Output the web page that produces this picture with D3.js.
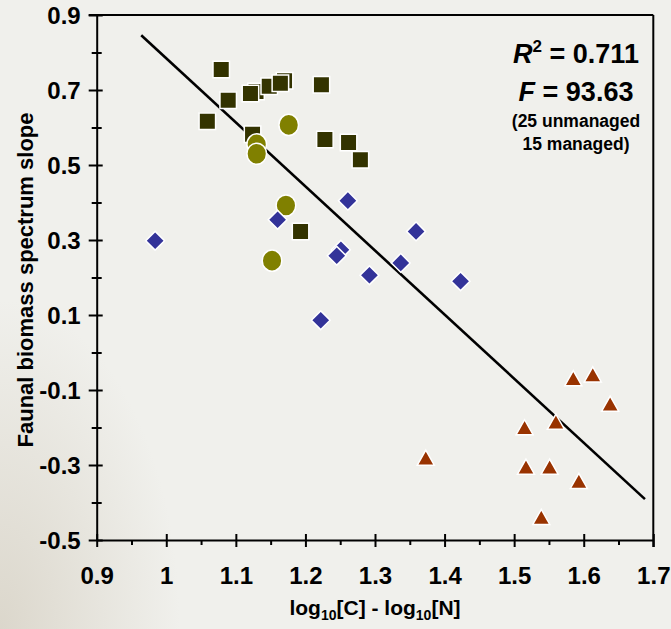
<!DOCTYPE html>
<html><head><meta charset="utf-8">
<script src="https://cdn.jsdelivr.net/npm/d3@7"></script>
<style>
html,body{margin:0;padding:0;background:#f0f0ec;}
svg{display:block;font-family:"Liberation Sans",Arial,sans-serif;font-weight:bold;}
</style>
</head><body>
<svg id="c" width="671" height="629"></svg>
<script>
// ---- data ----
const squaresX = [1.079, 1.089, 1.059, 1.129, 1.121, 1.148, 1.170, 1.164, 1.223, 1.124, 1.228, 1.262, 1.279, 1.193];
const squaresY = [0.755, 0.673, 0.617, 0.696, 0.691, 0.710, 0.725, 0.718, 0.714, 0.582, 0.568, 0.560, 0.514, 0.323];
const circlesX = [1.176, 1.130, 1.130, 1.172, 1.152];
const circlesY = [0.607, 0.555, 0.530, 0.392, 0.245];
const diamondsX = [0.984, 1.160, 1.261, 1.359, 1.251, 1.245, 1.337, 1.292, 1.423, 1.222];
const diamondsY = [0.298, 0.354, 0.405, 0.323, 0.274, 0.258, 0.239, 0.206, 0.190, 0.086];
const trianglesX = [1.585, 1.613, 1.638, 1.560, 1.515, 1.373, 1.517, 1.551, 1.593, 1.539];
const trianglesY = [-0.071, -0.061, -0.139, -0.187, -0.202, -0.283, -0.307, -0.307, -0.345, -0.441];
const fitX = [0.964, 1.688];
const fitY = [0.846, -0.391];
const xTicks = [0.9, 1.0, 1.1, 1.2, 1.3, 1.4, 1.5, 1.6, 1.7];
const xTickLabels = ["0.9", "1", "1.1", "1.2", "1.3", "1.4", "1.5", "1.6", "1.7"];
const xMinorTicks = [0.95, 1.05, 1.15, 1.25, 1.35, 1.45, 1.55, 1.65];
const yTicks = [0.9, 0.7, 0.5, 0.3, 0.1, -0.1, -0.3, -0.5];
const yTickLabels = ["0.9", "0.7", "0.5", "0.3", "0.1", "-0.1", "-0.3", "-0.5"];
const yMinorTicks = [0.8, 0.6, 0.4, 0.2, 0.0, -0.2, -0.4];
const statLines = ["0.711", "93.63", "(25 unmanaged", "15 managed)"];

// ---- layout ----
const svg = d3.select("#c");
const L = 96.7, R = 653.3, T = 15, B = 540;
const x = d3.scaleLinear().domain([0.9, 1.7]).range([L, R]);
const y = d3.scaleLinear().domain([-0.5, 0.9]).range([B, T]);
const FF = "Liberation Sans, Arial, sans-serif";

// background
const defs = svg.append("defs");
const rg = defs.append("radialGradient").attr("id", "bgShade").attr("cx", "0%").attr("cy", "100%").attr("r", "100%");
rg.append("stop").attr("offset", "0%").attr("stop-color", "#d9d4c8").attr("stop-opacity", 0.9);
rg.append("stop").attr("offset", "100%").attr("stop-color", "#d9d4c8").attr("stop-opacity", 0);
svg.append("rect").attr("width", 671).attr("height", 629).attr("fill", "#f0f0ec");
svg.append("rect").attr("x", 0).attr("y", 300).attr("width", 180).attr("height", 329).attr("fill", "url(#bgShade)");

// frame (top + right)
svg.append("line").attr("x1", L - 8).attr("x2", R).attr("y1", T).attr("y2", T).attr("stroke", "#000").attr("stroke-width", 2);
svg.append("line").attr("x1", R).attr("x2", R).attr("y1", T).attr("y2", B + 7).attr("stroke", "#000").attr("stroke-width", 2);

// axes
const yAxis = svg.append("g").attr("transform", `translate(${L},0)`)
  .call(d3.axisLeft(y).tickValues(yTicks).tickFormat((d, i) => yTickLabels[i]).tickSize(8).tickSizeOuter(0));
yAxis.selectAll(".tick line").attr("x1", 6).attr("stroke-width", 2);
yAxis.select(".domain").attr("stroke-width", 2);
yAxis.selectAll("text").attr("x", -16).attr("dy", "0.36em").attr("font-size", 24).attr("font-weight", "bold").attr("font-family", FF).attr("fill", "#000");
const yMinor = svg.append("g").attr("transform", `translate(${L},0)`)
  .call(d3.axisLeft(y).tickValues(yMinorTicks).tickFormat("").tickSize(5).tickSizeOuter(0));
yMinor.selectAll(".tick line").attr("x1", 5).attr("stroke-width", 2);
yMinor.select(".domain").remove();

const xAxis = svg.append("g").attr("transform", `translate(0,${B})`)
  .call(d3.axisBottom(x).tickValues(xTicks).tickFormat((d, i) => xTickLabels[i]).tickSize(7).tickSizeOuter(0));
xAxis.selectAll(".tick line").attr("y1", -6).attr("stroke-width", 2);
xAxis.select(".domain").attr("stroke-width", 2);
xAxis.selectAll("text").attr("y", 27).attr("dy", "0.71em").attr("font-size", 24).attr("font-weight", "bold").attr("font-family", FF).attr("fill", "#000");
const xMinor = svg.append("g").attr("transform", `translate(0,${B})`)
  .call(d3.axisBottom(x).tickValues(xMinorTicks).tickFormat("").tickSize(5).tickSizeOuter(0));
xMinor.selectAll(".tick line").attr("stroke-width", 2);
xMinor.select(".domain").remove();

// axis titles
svg.append("text").attr("transform", "translate(33,280) rotate(-90)").attr("text-anchor", "middle")
  .attr("font-size", 22).text("Faunal biomass spectrum slope");
const xt = svg.append("text").attr("x", 375).attr("y", 615).attr("text-anchor", "middle").attr("font-size", 21);
xt.append("tspan").text("log");
xt.append("tspan").attr("font-size", 14).attr("dy", 5).text("10");
xt.append("tspan").attr("dy", -5).text("[C] - log");
xt.append("tspan").attr("font-size", 14).attr("dy", 5).text("10");
xt.append("tspan").attr("dy", -5).text("[N]");

// regression line
svg.append("line").attr("x1", x(fitX[0])).attr("y1", y(fitY[0])).attr("x2", x(fitX[1])).attr("y2", y(fitY[1]))
  .attr("stroke", "#000").attr("stroke-width", 2.6);

// markers
const sq = d3.range(squaresX.length).map(i => [squaresX[i], squaresY[i]]);
svg.append("g").selectAll("path").data(sq).join("path")
  .attr("transform", d => `translate(${x(d[0])},${y(d[1])})`)
  .attr("d", d3.symbol(d3.symbolSquare, 16.5 * 16.5))
  .attr("fill", "#333300").attr("stroke", "#fff").attr("stroke-width", 1.5);

const ci = d3.range(circlesX.length).map(i => [circlesX[i], circlesY[i]]);
svg.append("g").selectAll("ellipse").data(ci).join("ellipse")
  .attr("cx", d => x(d[0])).attr("cy", d => y(d[1])).attr("rx", 9.8).attr("ry", 10.6)
  .attr("fill", "#808000").attr("stroke", "#fff").attr("stroke-width", 1.5);

const di = d3.range(diamondsX.length).map(i => [diamondsX[i], diamondsY[i]]);
svg.append("g").selectAll("path").data(di).join("path")
  .attr("transform", d => `translate(${x(d[0])},${y(d[1])}) rotate(45)`)
  .attr("d", d3.symbol(d3.symbolSquare, 13.3 * 13.3))
  .attr("fill", "#333399").attr("stroke", "#fff").attr("stroke-width", 1.5);

const tr = d3.range(trianglesX.length).map(i => [trianglesX[i], trianglesY[i]]);
svg.append("g").selectAll("path").data(tr).join("path")
  .attr("transform", d => `translate(${x(d[0])},${y(d[1])})`)
  .attr("d", "M0,-8.5 L8.5,6.5 L-8.5,6.5 Z")
  .attr("fill", "#993300").attr("stroke", "#fff").attr("stroke-width", 1.5);

// stats annotation
const cx = 576;
const t1 = svg.append("text").attr("x", cx).attr("y", 63).attr("text-anchor", "middle").attr("font-size", 27);
t1.append("tspan").attr("font-style", "italic").text("R");
t1.append("tspan").attr("font-size", 17).attr("dy", -11).text("2");
t1.append("tspan").attr("dy", 11).text(" = " + statLines[0]);
const t2 = svg.append("text").attr("x", cx).attr("y", 101).attr("text-anchor", "middle").attr("font-size", 27);
t2.append("tspan").attr("font-style", "italic").text("F");
t2.append("tspan").text(" = " + statLines[1]);
svg.append("text").attr("x", cx).attr("y", 127).attr("text-anchor", "middle").attr("font-size", 17.5).text(statLines[2]);
svg.append("text").attr("x", cx).attr("y", 150).attr("text-anchor", "middle").attr("font-size", 17.5).text(statLines[3]);
</script>
</body></html>
